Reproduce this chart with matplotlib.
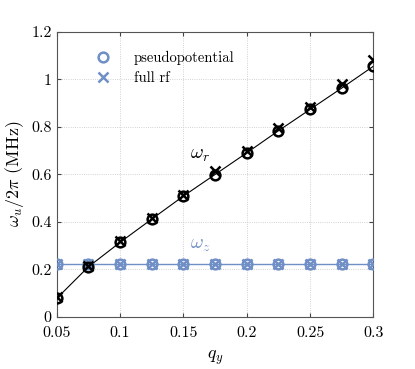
import numpy as np
import matplotlib
matplotlib.use("Agg")
import matplotlib.pyplot as plt

plt.rcParams["font.family"] = "serif"
plt.rcParams["font.serif"] = ["cmr10", "DejaVu Serif"]
plt.rcParams["mathtext.fontset"] = "cm"
plt.rcParams["axes.unicode_minus"] = False

q_y = [0.05, 0.075, 0.1, 0.125, 0.15, 0.175, 0.2, 0.225, 0.25, 0.275, 0.3]
wr_pseudo = [0.077, 0.21, 0.313, 0.411, 0.508, 0.599, 0.69, 0.783, 0.873, 0.963, 1.055]
wr_full = [0.083, 0.215, 0.318, 0.416, 0.513, 0.612, 0.70, 0.795, 0.884, 0.980, 1.08]
wz_pseudo = [0.222] * 11
wz_full = [0.220] * 11

xticks = [0.05, 0.1, 0.15, 0.2, 0.25, 0.3]
yticks = [0, 0.2, 0.4, 0.6, 0.8, 1.0, 1.2]

blue = "#6f8fc6"

fig = plt.figure(figsize=(4.15, 3.69), dpi=100)
ax = fig.add_axes([0.1366, 0.1417, 0.763, 0.772])

ax.plot(q_y, wz_pseudo, color=blue, lw=1.0, zorder=2)
ax.plot(q_y, wr_pseudo, color="black", lw=0.8, zorder=2)

ms = 7
mew = 1.8
ax.plot(q_y, wz_pseudo, "o", mfc="none", mec=blue, ms=ms, mew=mew, zorder=3)
ax.plot(q_y, wz_full, "x", color=blue, ms=ms, mew=mew, zorder=3)
ax.plot(q_y, wr_pseudo, "o", mfc="none", mec="black", ms=ms, mew=mew, zorder=4)
ax.plot(q_y, wr_full, "x", color="black", ms=ms, mew=mew, zorder=4)

# legend entries
h1, = ax.plot([], [], "o", mfc="none", mec=blue, ms=ms, mew=mew)
h2, = ax.plot([], [], "x", color=blue, ms=ms, mew=mew)
ax.legend([h1, h2], ["pseudopotential", "full rf"], loc="upper left",
          bbox_to_anchor=(0.06, 0.98), frameon=False, fontsize=10.5,
          handletextpad=1.1, labelspacing=0.45)

ax.text(0.163, 0.68, r"$\omega_r$", fontsize=14, color="black", ha="center", va="center")
ax.text(0.163, 0.30, r"$\omega_z$", fontsize=14, color=blue, ha="center", va="center")

ax.set_xlim(0.05, 0.3)
ax.set_ylim(0, 1.2)
ax.set_xticks(xticks)
ax.set_xticklabels([f"{t:g}" for t in xticks])
ax.set_yticks(yticks)
ax.set_yticklabels([f"{t:g}" for t in yticks])
ax.tick_params(direction="in", top=True, right=True, labelsize=11.5, length=3,
               color="#444444")
ax.tick_params(axis="x", pad=7)
ax.grid(True, ls=":", lw=0.6, color="#c4c4c4")
for s in ax.spines.values():
    s.set_color("#555555")
    s.set_linewidth(0.8)

ax.set_xlabel(r"$q_y$", fontsize=13, labelpad=6)
ax.set_ylabel(r"$\omega_u/2\pi$ (MHz)", fontsize=13)

fig.savefig("out.png", dpi=100)
